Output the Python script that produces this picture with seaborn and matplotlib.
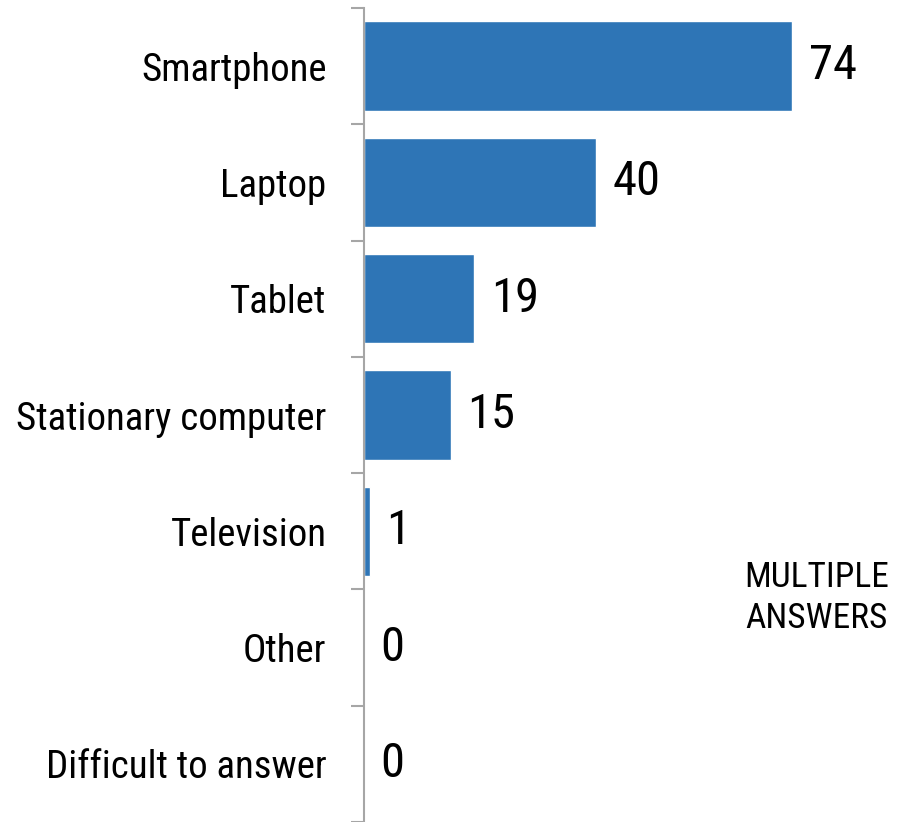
import matplotlib
matplotlib.use("Agg")
import matplotlib.pyplot as plt
from matplotlib import font_manager
import seaborn as sns
import numpy as np

# Chart data
devices = ["Smartphone", "Laptop", "Tablet", "Stationary computer",
           "Television", "Other", "Difficult to answer"]
shares = [74, 40, 19, 15, 1, 0, 0]

BAR_COLOR = "#2E75B6"
SPINE_COLOR = "#A6A6A6"

# look for a condensed face, otherwise shrink the regular one
installed = {f.name for f in font_manager.fontManager.ttflist}
narrow = [n for n in ["Liberation Sans Narrow", "Roboto Condensed",
                      "Open Sans Condensed", "Noto Sans Condensed"]
          if n in installed]
if narrow:
    family = [narrow[0], "DejaVu Sans"]
    label_size, value_size, note_size = 28, 35, 25.5
else:
    family = ["Liberation Sans", "DejaVu Sans"]
    label_size, value_size, note_size = 25.5, 30, 21.5

sns.set_style("white")
plt.rcParams["font.family"] = family

fig = plt.figure(figsize=(8.99, 8.22), dpi=100)
ax = fig.add_axes([364 / 899, 0.0, 1 - 364 / 899, (822 - 8) / 822])

sns.barplot(x=shares, y=devices, color=BAR_COLOR, width=0.77,
            saturation=1, orient="h", ax=ax)

ax.set_xlim(0, (899 - 364) / 5.79)
ax.set_ylim(len(devices) - 0.5, -0.5)

# value labels
ax.bar_label(ax.containers[0], labels=[str(v) for v in shares],
             padding=12, fontsize=value_size, color="black")

# spines
for side in ["top", "right", "bottom"]:
    ax.spines[side].set_visible(False)
ax.spines["left"].set_color(SPINE_COLOR)
ax.spines["left"].set_linewidth(1.5)

ax.set_xticks([])
ax.set_xlabel("")
ax.set_ylabel("")
ax.tick_params(axis="y", which="major", length=0, pad=27,
               labelsize=label_size, labelcolor="black")
ax.set_yticks(np.arange(len(devices) + 1) - 0.5, minor=True)
ax.tick_params(axis="y", which="minor", length=9.5, width=1.5,
               color=SPINE_COLOR, left=True)

fig.text(817 / 899, 1 - 598 / 822, "MULTIPLE\nANSWERS", ha="center",
         va="center", fontsize=note_size, linespacing=1.3, color="black")

fig.savefig("out.png", dpi=100, facecolor="white")
